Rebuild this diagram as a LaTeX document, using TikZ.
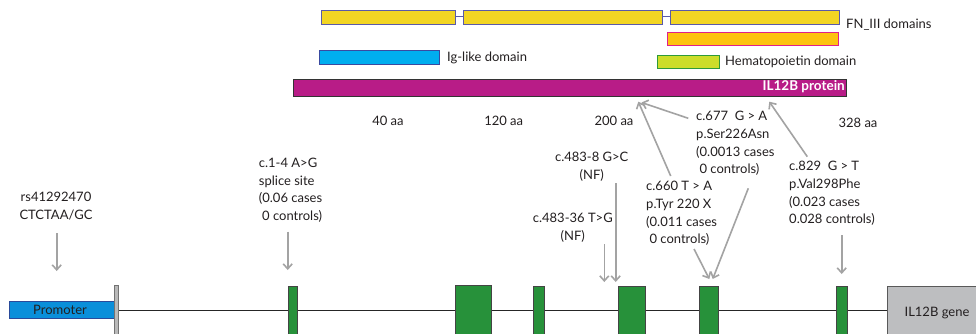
\documentclass[tikz,border=0pt]{standalone}
\usepackage{fontspec}
\setmainfont{Lato}
\usetikzlibrary{arrows.meta}
\definecolor{txt}{HTML}{231F20}
\definecolor{fnfill}{HTML}{F2D523}
\definecolor{fnedge}{HTML}{5A5AA8}
\definecolor{orfill}{HTML}{FDC30F}
\definecolor{oredge}{HTML}{E0208A}
\definecolor{igfill}{HTML}{00AEEF}
\definecolor{igedge}{HTML}{3A4AA0}
\definecolor{hemfill}{HTML}{CCDD2A}
\definecolor{hemedge}{HTML}{2E9A3A}
\definecolor{protfill}{HTML}{B81C87}
\definecolor{promfill}{HTML}{0A8FDA}
\definecolor{promedge}{HTML}{2A4A9A}
\definecolor{exfill}{HTML}{27913A}
\definecolor{exedge}{HTML}{444444}
\definecolor{genefill}{HTML}{BDBEC0}
\definecolor{arr}{HTML}{A3A3A3}
\tikzset{
  lbl/.style={font=\fontsize{13}{17.7}\selectfont, text=txt, inner sep=0pt, align=left},
  lblc/.style={lbl, align=center},
  fnbox/.style={draw=fnedge, fill=fnfill, line width=1pt},
  exon/.style={draw=exedge, fill=exfill, line width=0.8pt},
  varrow/.style={draw=arr, line width=1.6pt, -{Straight Barb[length=5pt,width=9pt]}},
}
\begin{document}
\begin{tikzpicture}[x=1pt,y=-1pt]
\clip (0,0) rectangle (976,334);
\fill[white] (0,0) rectangle (976,334);
% ---- protein domains ----
\draw[fnedge, line width=1pt] (455.5,16.3) -- (463.5,16.3) (662.5,16.3) -- (670.5,16.3);
\draw[fnbox] (321.5,10.7) rectangle (455.5,24.3);
\draw[fnbox] (463.5,10.7) rectangle (662.5,24.3);
\draw[fnbox] (670.5,10.7) rectangle (839.5,24.3);
\node[lbl, anchor=west] (fnl) at (846,25) {FN\_III domains};
\draw[draw=oredge, fill=orfill, line width=1pt] (667.5,32.5) rectangle (838.5,46);
\draw[draw=igedge, fill=igfill, line width=1pt] (319,50.7) rectangle (439.5,64.3);
\node[lbl, anchor=west] (igl) at (447,58) {Ig-like domain};
\draw[draw=hemedge, fill=hemfill, line width=1pt] (657.5,56) rectangle (719.5,68.3);
\node[lbl, anchor=west] (heml) at (725,62) {Hematopoietin domain};
\draw[draw=black!80, fill=protfill, line width=1pt] (293.7,79.3) rectangle (846.7,96.7);
\node[font=\fontsize{13.5}{15}\selectfont\bfseries, text=white, inner sep=0pt, anchor=east] (protl) at (845,87) {IL12B protein};
% aa labels
\node[lblc] (aa40) at (388,120.5) {40 aa};
\node[lblc] (aa120) at (503.7,120.5) {120 aa};
\node[lblc] (aa200) at (614,120.5) {200 aa};
\node[lblc] (aa328) at (858,122.5) {328 aa};
% ---- gene ----
\draw[black!85, line width=1pt] (118,310.8) -- (888,310.8);
\draw[draw=promedge, fill=promfill, line width=0.8pt] (9.3,301.3) rectangle (114,318.3);
\node[lblc] (prom) at (60,310) {Promoter};
\draw[draw=gray!90!black, fill=gray!55, line width=0.8pt] (114,285.7) rectangle (118.5,340);
\draw[exon] (288.7,286) rectangle (297.7,340);
\draw[exon] (455,285.3) rectangle (491.7,340);
\draw[exon] (533,286.7) rectangle (544,340);
\draw[exon] (618.3,286.7) rectangle (645,340);
\draw[exon] (699.3,286.7) rectangle (718.3,340);
\draw[exon] (836.7,286.7) rectangle (847.7,340);
\draw[draw=gray!70!black, fill=genefill, line width=0.8pt] (887,286) rectangle (980,340);
\node[lblc] (gene) at (937,313.3) {IL12B gene};
% coordinates for arrow ends
\coordinate (p1) at (638.3,101.7);
\coordinate (p2) at (641.5,102.5);
\coordinate (p3) at (769.3,101.7);
\coordinate (e1) at (287.7,270);
\coordinate (e0) at (56.7,271);
\coordinate (e4a) at (604.3,282);
\coordinate (e4b) at (615.7,282);
\coordinate (e5a) at (709.3,279);
\coordinate (e5b) at (712.7,279);
\coordinate (e6) at (841.7,274);
% ---- variant labels ----
\node[lblc, anchor=north] (rs) at (56,192) {rs41292470\\CTCTAA/GC};
\node[lbl, anchor=north west] (c14) at (258.7,157.7) {c.1-4 A>G\\splice site\\(0.06 cases\\\ 0 controls)};
\node[lblc, anchor=north] (c4838) at (591.7,152) {c.483-8 G>C\\(NF)};
\node[lblc, anchor=north] (c48336) at (572.8,212.7) {c.483-36 T>G\\(NF)};
\node[lbl, anchor=north west] (c660) at (646,181) {c.660 T > A\\p.Tyr 220 X\\(0.011 cases\\\ 0 controls)};
\node[lbl, anchor=north west] (c677) at (696,111) {c.677\ \ G > A\\p.Ser226Asn\\(0.0013 cases\\\ 0 controls)};
\node[lbl, anchor=north west] (c829) at (789,161) {c.829\ \ G > T\\p.Val298Phe\\(0.023 cases\\0.028 controls)};
% ---- arrows ----
\draw[varrow] (56.7,233) -- (e0);
\draw[varrow] (287.7,231.7) -- (e1);
\draw[varrow] (604.3,244) -- (e4a);
\draw[varrow] (615.7,183.3) -- (e4b);
\draw[varrow] (670.7,176) -- (p1);
\draw[varrow] (688.3,118.3) -- (p2);
\draw[varrow] (807.3,156.7) -- (p3);
\draw[varrow] (748.3,188.3) -- (e5b);
\draw[varrow] (694,249) -- (e5a);
\draw[varrow] (841.7,235) -- (e6);
\end{tikzpicture}
\end{document}
